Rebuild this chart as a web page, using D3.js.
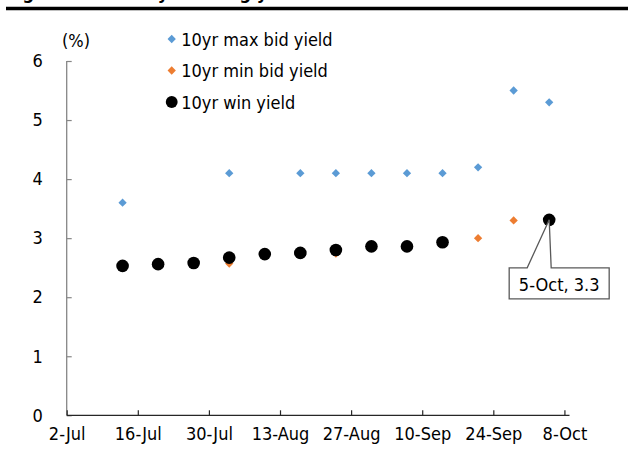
<!DOCTYPE html>
<html>
<head>
<meta charset="utf-8">
<script src="https://cdn.jsdelivr.net/npm/d3@7"></script>
<style>
    body { margin: 0; background: #fff; }
    svg text { font-family: "DejaVu Sans Condensed", "DejaVu Sans", sans-serif; font-stretch: condensed; }
</style>
</head>
<body>
<div class="chart"></div>
<script>
const width = 629,
    height = 450,
    margin = { top: 61, bottom: 35, left: 67, right: 60 };

// weekly auction dates
const dates = ["2018-07-13", "2018-07-20", "2018-07-27", "2018-08-03", "2018-08-10", "2018-08-17",
    "2018-08-24", "2018-08-31", "2018-09-07", "2018-09-14", "2018-09-21", "2018-09-28", "2018-10-05"];
const maxBid = [3.6, null, null, 4.1, null, 4.1, 4.1, 4.1, 4.1, 4.1, 4.2, 5.5, 5.3];
const minBid = [2.53, 2.56, 2.58, 2.57, 2.73, 2.75, 2.74, 2.86, 2.85, 2.93, 3.0, 3.3, 3.3];
const winYield = [2.53, 2.56, 2.58, 2.67, 2.73, 2.75, 2.8, 2.86, 2.86, 2.93, null, null, 3.31];
const xTicks = ["2018-07-02", "2018-07-16", "2018-07-30", "2018-08-13", "2018-08-27", "2018-09-10", "2018-09-24", "2018-10-08"];
const yTicks = [0, 1, 2, 3, 4, 5, 6];
const legendLabels = ["10yr max bid yield", "10yr min bid yield", "10yr win yield"];
const calloutLabel = "5-Oct, 3.3";

const parse = d3.timeParse("%Y-%m-%d");
const fmt = d3.timeFormat("%-d-%b");

const svg = d3.select(".chart")
    .append("svg")
    .attr("width", width)
    .attr("height", height);

// cut off title + rule at the top
svg.append("text")
    .text("Figure 3: KTB 10yr bidding yield trend")
    .attr("x", 6)
    .attr("y", -1)
    .attr("font-size", 18)
    .attr("font-weight", "bold")
    .attr("fill", "#000");
svg.append("line")
    .attr("x1", 6).attr("x2", 628)
    .attr("y1", 8.5).attr("y2", 8.5)
    .attr("stroke", "#000")
    .attr("stroke-width", 3.5);

const x = d3.scaleTime()
    .domain([parse("2018-07-02"), parse("2018-10-09")])
    .range([66.7, 569.5]);
const y = d3.scaleLinear()
    .domain([0, 6])
    .range([415.3, 61]);

// axes
const yAxis = d3.axisLeft(y).tickValues(yTicks).tickSize(-5).tickPadding(24).tickFormat(d3.format("d"));
const gy = svg.append("g")
    .attr("transform", `translate(${66.7}, 0)`)
    .call(yAxis);
gy.select(".domain").attr("stroke", "#868686").attr("stroke-width", 1.3).attr("d", `M-0,${y(6)}V${y(0)}`);
gy.selectAll(".tick line").attr("stroke", "#868686").attr("stroke-width", 1.2);
gy.selectAll(".tick text").attr("font-size", 18).attr("fill", "#000");

const xAxis = d3.axisBottom(x).tickValues(xTicks.map(parse)).tickSize(-5).tickPadding(12).tickFormat(fmt);
const gx = svg.append("g")
    .attr("transform", `translate(0, ${415.3})`)
    .call(xAxis);
gx.select(".domain").attr("stroke", "#262626").attr("stroke-width", 1.3).attr("d", `M66.7,0H569.5`);
gx.selectAll(".tick line").attr("stroke", "#262626").attr("stroke-width", 1.2);
gx.selectAll(".tick text").attr("font-size", 18).attr("fill", "#000");

// unit label
svg.append("text")
    .text("(%)")
    .attr("x", 62)
    .attr("y", 47)
    .attr("font-size", 18)
    .attr("fill", "#000");

const diamond = d3.symbol().type(d3.symbolDiamond2).size(44);

const maxData = dates.map((d, i) => ({ date: parse(d), v: maxBid[i] })).filter(d => d.v != null);
const minData = dates.map((d, i) => ({ date: parse(d), v: minBid[i] })).filter(d => d.v != null);
const winData = dates.map((d, i) => ({ date: parse(d), v: winYield[i] })).filter(d => d.v != null);

svg.selectAll("path.max")
    .data(maxData)
    .join("path")
    .attr("class", "max")
    .attr("d", diamond)
    .attr("transform", d => `translate(${x(d.date)}, ${y(d.v)})`)
    .attr("fill", "#5b9bd5");

svg.selectAll("path.min")
    .data(minData)
    .join("path")
    .attr("class", "min")
    .attr("d", diamond)
    .attr("transform", d => `translate(${x(d.date)}, ${y(d.v)})`)
    .attr("fill", "#ed7d31");

svg.selectAll("circle.win")
    .data(winData)
    .join("circle")
    .attr("class", "win")
    .attr("cx", d => x(d.date))
    .attr("cy", d => y(d.v))
    .attr("r", 6.3)
    .attr("fill", "#000");

// callout on the last win yield
const last = winData[winData.length - 1];
const px = x(last.date), py = y(last.v);
const bx = px - 40, by = py + 48, bw = 100, bh = 31;
svg.append("path")
    .attr("d", `M${bx},${by} H${px - 22} L${px},${py} L${px + 2},${by} H${bx + bw} V${by + bh} H${bx} Z`)
    .attr("fill", "#fff")
    .attr("stroke", "#595959")
    .attr("stroke-width", 1.3);
svg.append("text")
    .text(calloutLabel)
    .attr("x", bx + bw / 2)
    .attr("y", by + 23)
    .attr("text-anchor", "middle")
    .attr("font-size", 18)
    .attr("fill", "#000");

// legend
const legend = svg.selectAll("g.legend")
    .data(legendLabels)
    .join("g")
    .attr("class", "legend")
    .attr("transform", (d, i) => `translate(${171.7}, ${39 + i * 31.5})`);
legend.append("path")
    .attr("d", (d, i) => i < 2 ? diamond() : d3.symbol().type(d3.symbolCircle).size(110)())
    .attr("fill", (d, i) => ["#5b9bd5", "#ed7d31", "#000"][i]);
legend.append("text")
    .text(d => d)
    .attr("x", 9.5)
    .attr("y", 6.5)
    .attr("font-size", 18)
    .attr("fill", "#000");
</script>
</body>
</html>
